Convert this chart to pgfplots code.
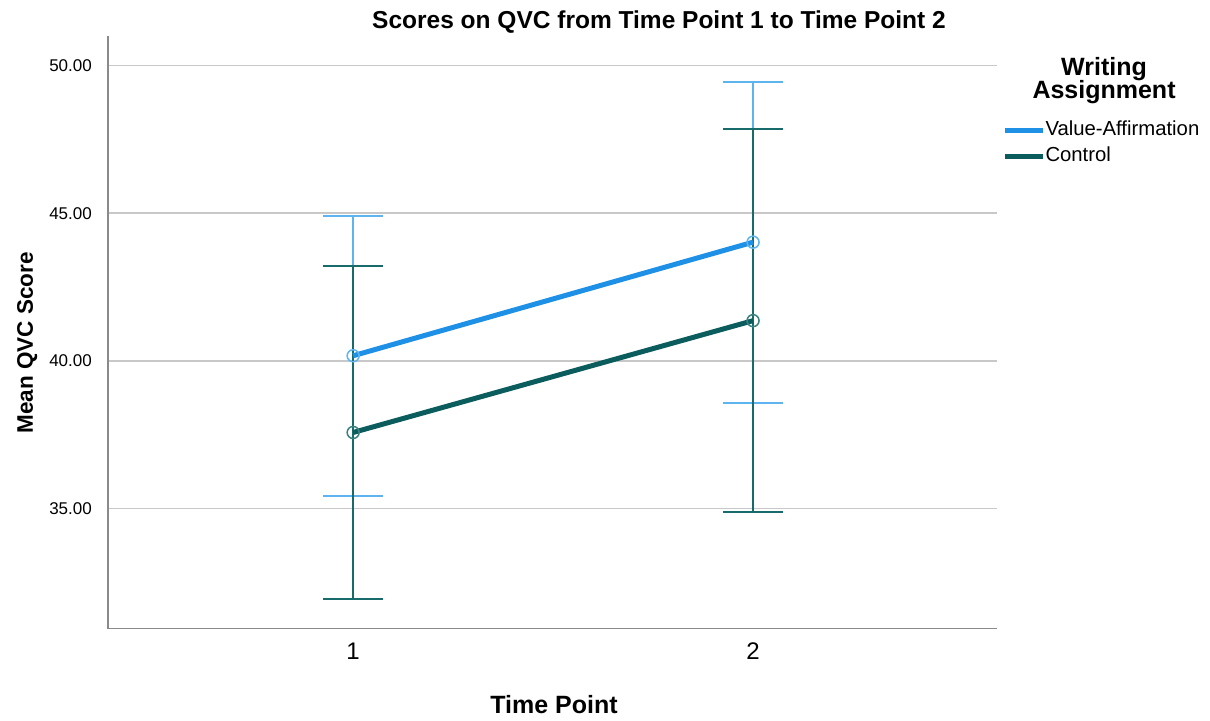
\documentclass[border=0pt]{standalone}
\usepackage{fontspec}
\setmainfont{Liberation Sans}
\usepackage{pgfplots}
\usepackage{pgfplotstable}
\pgfplotsset{compat=1.18}
\definecolor{vaLine}{HTML}{1E90E5}
\definecolor{vaErr}{HTML}{5DB4EF}
\definecolor{ctLine}{HTML}{0B5C5C}
\definecolor{ctErr}{HTML}{176B6B}
\definecolor{gridc}{HTML}{C8C8C8}
\definecolor{axc}{HTML}{8A8A8A}

\pgfplotstableread{
x y ep em
1 40.17 4.73 4.74
2 44.02 5.44 5.44
}\va
\pgfplotstableread{
x y ep em
1 37.57 5.63 5.63
2 41.36 6.49 6.49
}\ct

\begin{document}
\begin{tikzpicture}
\useasboundingbox (0,0) rectangle (1210bp,721bp);
\begin{axis}[
  at={(108bp,92.3bp)}, anchor=south west,
  scale only axis, width=889bp, height=592.5bp,
  xmin=0.387, xmax=2.61, ymin=30.92, ymax=51.0,
  clip=false,
  xtick={1,2}, xticklabels={1,2},
  ytick={35,40,45,50},
  /pgf/number format/assume math mode=true,
  yticklabel style={/pgf/number format/fixed, /pgf/number format/fixed zerofill, /pgf/number format/precision=2,
     font=\fontsize{17bp}{20bp}\selectfont, inner sep=0pt, anchor=east, xshift=-16bp},
  xticklabel style={font=\fontsize{24bp}{28bp}\selectfont, inner sep=0pt, anchor=north, yshift=-14bp},
  axis x line*=bottom, axis y line*=left,
  axis line style={axc, line width=1.5bp},
  major tick length=0pt,
  ymajorgrids, grid style={gridc, line width=1.5bp},
  title={Scores on QVC from Time Point 1 to Time Point 2},
  title style={at={(axis description cs:0.6198,1.0037)}, anchor=base, font=\bfseries\fontsize{24.5bp}{30bp}\selectfont, inner sep=0pt},
  xlabel={Time Point},
  xlabel style={at={(axis description cs:0.5017,-0.1423)}, anchor=base, font=\bfseries\fontsize{25bp}{30bp}\selectfont, inner sep=0pt},
  ylabel={Mean QVC Score},
  ylabel style={at={(axis description cs:-0.0844,0.4822)}, anchor=base, rotate=0, font=\bfseries\fontsize{22.5bp}{27bp}\selectfont, inner sep=0pt},
  legend image code/.code={\draw[#1] (0bp,0bp) -- (38bp,0bp);},
  legend cell align=left,
  legend style={at={(axis description cs:1.00675,0.8557)}, anchor=north west, draw=none, fill=none,
     inner sep=0pt, outer sep=0pt, row sep=8bp, font=\fontsize{20.3bp}{24bp}\selectfont,
     nodes={inner sep=0pt, text height=14bp, text depth=4bp},
     /tikz/every even column/.append style={column sep=4bp}},
]
% error bars
\addplot[forget plot, draw=none, mark=none,
  error bars/.cd, y dir=both, y explicit, error mark=|,
  error bar style={draw=vaErr, line width=1.5bp},
  error mark options={draw=vaErr, line width=1.8bp, mark size=30bp}]
  table[x=x, y=y, y error plus=ep, y error minus=em]{\va};
\addplot[forget plot, draw=none, mark=none,
  error bars/.cd, y dir=both, y explicit, error mark=|,
  error bar style={draw=ctErr, line width=1.5bp},
  error mark options={draw=ctErr, line width=1.8bp, mark size=30bp}]
  table[x=x, y=y, y error plus=ep, y error minus=em]{\ct};
% means
\addplot[forget plot, vaLine, line width=5bp, mark=o, mark size=6bp, mark options={draw=vaErr, line width=1.5bp}]
  table[x=x, y=y]{\va};
\addplot[forget plot, ctLine, line width=5bp, mark=o, mark size=6bp, mark options={draw=ctErr!85!white, line width=1.5bp}]
  table[x=x, y=y]{\ct};
% legend
\addlegendimage{vaLine, line width=4.5bp}
\addlegendentry{Value-Affirmation}
\addlegendimage{ctLine, line width=4.5bp}
\addlegendentry{Control}
\node[anchor=base, font=\bfseries\fontsize{25bp}{30bp}\selectfont, inner sep=0pt] at (axis description cs:1.1204,0.9345) {Writing};
\node[anchor=base, font=\bfseries\fontsize{25bp}{30bp}\selectfont, inner sep=0pt] at (axis description cs:1.1204,0.8952) {Assignment};
\end{axis}
\end{tikzpicture}
\end{document}
